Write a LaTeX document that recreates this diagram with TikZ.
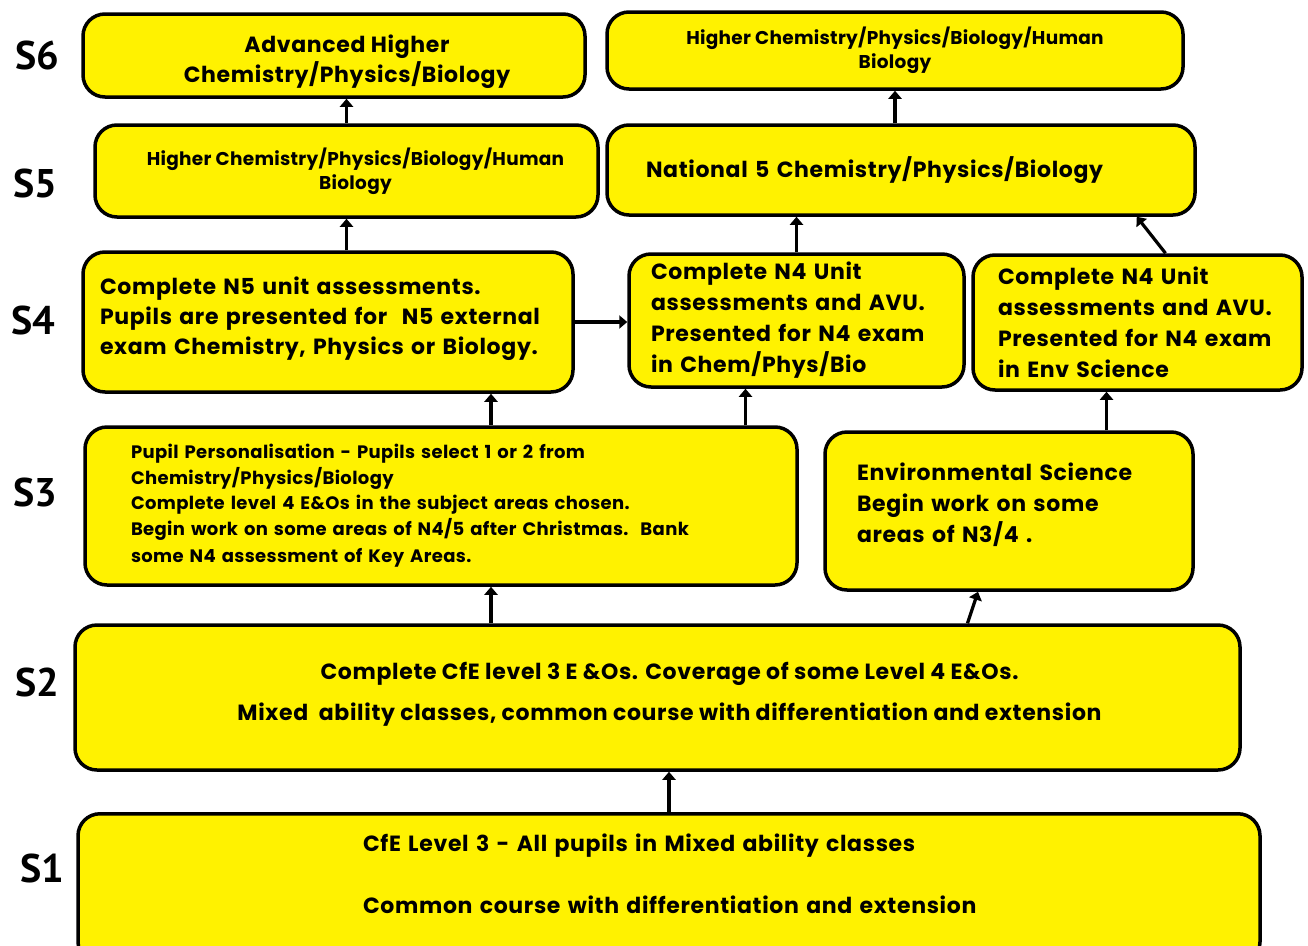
\documentclass[tikz,border=0pt]{standalone}
\usepackage{fontspec}
\setmainfont{Poppins}[LetterSpace=3]
\newfontfamily\labfont{PT Sans}
\usetikzlibrary{calc}
\usetikzlibrary{arrows,arrows.meta,shapes}
\usetikzlibrary{positioning}
\newcommand{\txt}{\bfseries\fontsize{22}{30}\selectfont}
\newcommand{\sml}{\bfseries\fontsize{18.5}{24}\selectfont\addfontfeature{LetterSpace=1.5}}
\newcommand{\tny}{\bfseries\fontsize{18}{25.5}\selectfont\addfontfeature{LetterSpace=2}}
\tikzset{
	yr/.style={font=\labfont\bfseries\fontsize{40}{40}\selectfont,inner sep=0pt},
	bx/.style={draw=black,fill=yellow,line width=3.5pt,rounded corners=22pt,inner sep=0pt},
	arr/.style={-{Triangle[length=8pt,width=13pt]},line width=3.2pt}
}
\begin{document}
\begin{tikzpicture}[x=1pt,y=-1pt]
	\path[use as bounding box,fill=white] (0,0) rectangle (1308,945);
	\node[yr] (l6) at (37,55) {S6};
	\node[yr] (l5) at (35,183) {S5};
	\node[yr] (l4) at (33,320) {S4};
	\node[yr] (l3) at (35,492) {S3};
	\node[yr] (l2) at (37,682) {S2};
	\node[yr] (l1) at (42,868) {S1};
	\node[bx,minimum width=502,minimum height=83,align=center,font=\txt] (s6a) at (334,55.5)
		{\hspace*{26pt}Advanced Higher\\\hspace*{26pt}Chemistry/Physics/Biology\\[-37pt]\mbox{}};
	\node[bx,minimum width=576,minimum height=77,align=center,font=\sml] (s6b) at (895,50.5)
		{Higher Chemistry/Physics/Biology/Human\\Biology};
	\node[bx,minimum width=503,minimum height=92,align=center,font=\sml] (s5a) at (346.5,171)
		{\hspace*{18pt}Higher Chemistry/Physics/Biology/Human\\\hspace*{18pt}Biology};
	\node[bx,minimum width=588,minimum height=90,text width=510,align=left,font=\txt] (s5b) at (901,170)
		{National 5 Chemistry/Physics/Biology\\[-24pt]\mbox{}};
	\node[bx,minimum width=490,minimum height=140,text width=456,align=left,font=\txt] (s4a) at (328,322)
		{Complete N5 unit assessments.\\Pupils are presented for\ \ N5 external\\exam Chemistry, Physics or Biology.\\[-18pt]\mbox{}};
	\node[bx,minimum width=335,minimum height=133,text width=291,align=left,font=\txt] (s4b) at (796.5,320.5)
		{Complete N4 Unit\\[1pt]assessments and AVU.\\[1pt]Presented for N4 exam\\[1pt]in Chem/Phys/Bio};
	\node[bx,minimum width=329,minimum height=135,text width=279,align=left,font=\txt] (s4c) at (1137.5,322.5)
		{Complete N4 Unit\\[1pt]assessments and AVU.\\[1pt]Presented for N4 exam\\[1pt]in Env Science};
	\node[bx,minimum width=712,minimum height=158,text width=620,align=left,font=\tny] (s3a) at (441,506)
		{Pupil Personalisation - Pupils select 1 or 2 from\\Chemistry/Physics/Biology\\Complete level 4 E\&Os in the subject areas chosen.\\Begin work on some areas of N4/5 after Christmas.\ \ Bank\\[2pt]some N4 assessment of Key Areas.};
	\node[bx,minimum width=368,minimum height=158,text width=304,align=left,font=\txt] (s3b) at (1009,511)
		{Environmental Science\\[1pt]Begin work on some\\[1pt]areas of N3/4 .\\[-14pt]\mbox{}};
	\node[bx,minimum width=1165,minimum height=145,align=center,font=\txt] (s2) at (657.5,697.5)
		{\hspace*{24pt}Complete CfE level 3 E \&Os. Coverage of some Level 4 E\&Os.\\[11pt]\hspace*{24pt}Mixed\ \ ability classes, common course with differentiation and extension\\[-18pt]\mbox{}};
	\node[bx,minimum width=1182,minimum height=150,text width=612,align=left,font=\txt,anchor=north] (s1) at (669,812)
		{CfE Level 3 - All pupils in Mixed ability classes\\[32pt]Common course with differentiation and extension\\[0pt]\mbox{}};
	\coordinate (c1) at ([xshift=50]s3a.north);
	\coordinate (c2) at ([xshift=-51]s4b.south);
	\coordinate (c3) at ([xshift=-31]s4c.south);
	\draw[arr] (s5a.north) -- (s5a.north |- s6a.south);
	\draw[arr] (s5a.south |- s4a.north) -- (s5a.south);
	\draw[arr] (s4a.east) -- (s4a.east -| s4b.west);
	\draw[arr] (s4b.north) -- (s4b.north |- s5b.south);
	\draw[arr] ([xshift=28]s4c.north) -- ([xshift=-60]s5b.south east);
	\draw[arr] (s6b.south |- s5b.north) -- (s6b.south);
	\draw[arr] (c1) -- (c1 |- s4a.south);
	\draw[arr] (c2 |- s3a.north) -- (c2);
	\draw[arr] (c3 |- s3b.north) -- (c3);
	\draw[arr] (c1 |- s2.north) -- (c1 |- s3a.south);
	\draw[arr] ([xshift=310]s2.north) -- ([xshift=-31]s3b.south);
	\draw[arr] (s1.north) -- (s1.north |- s2.south);
\end{tikzpicture}
\end{document}
